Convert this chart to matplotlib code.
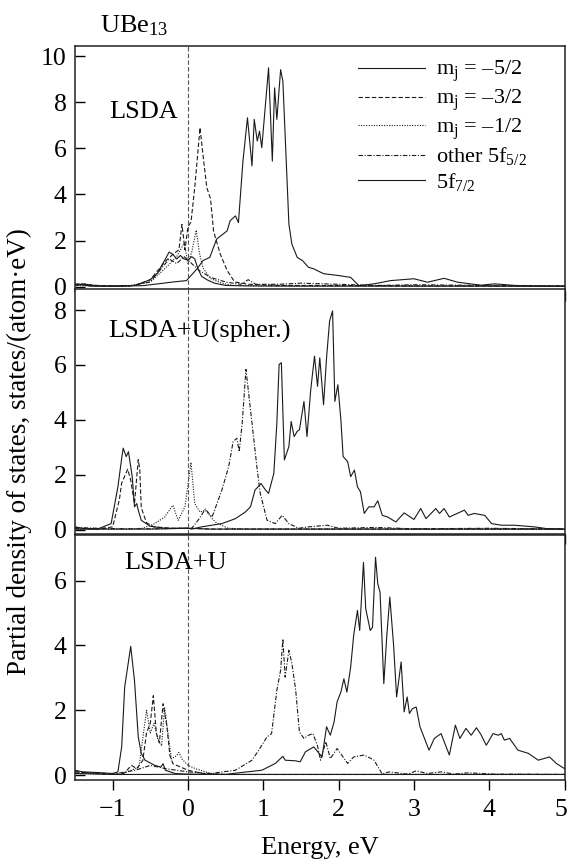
import matplotlib
matplotlib.use("Agg")
from matplotlib import pyplot as plt
from matplotlib.transforms import ScaledTranslation

plt.rcParams['font.family'] = ['Liberation Serif', 'DejaVu Serif']
plt.rcParams['mathtext.fontset'] = 'custom'
plt.rcParams['mathtext.rm'] = 'Liberation Serif'
plt.rcParams['mathtext.it'] = 'Liberation Serif:italic'

# ---------- LSDA ----------
lsda_m52_e = [-1.5, -1.42, -1.3, -1.0, -0.7, -0.5, -0.4, -0.3, -0.25, -0.2, -0.15, -0.1, -0.05, 0.0, 0.05, 0.09, 0.13, 0.18, 0.25, 0.35, 0.5, 0.8, 1.5, 5.0]
lsda_m52 = [0.05, 0.1, 0.03, 0.02, 0.05, 0.3, 0.6, 1.2, 1.5, 1.4, 1.2, 1.35, 1.2, 1.15, 1.3, 1.2, 0.8, 0.45, 0.3, 0.15, 0.05, 0.03, 0.02, 0.02]

lsda_m32_e = [-1.5, -1.4, -1.2, -0.9, -0.7, -0.5, -0.4, -0.3, -0.2, -0.12, -0.08, -0.04, 0.0, 0.04, 0.09, 0.16, 0.2, 0.25, 0.3, 0.34, 0.43, 0.52, 0.62, 0.8, 1.2, 2.0, 3.0, 5.0]
lsda_m32 = [0.1, 0.12, 0.05, 0.02, 0.05, 0.3, 0.7, 1.1, 1.4, 1.6, 2.7, 1.6, 2.6, 2.8, 4.3, 6.9, 5.7, 4.3, 3.8, 2.4, 1.4, 0.7, 0.2, 0.1, 0.05, 0.05, 0.03, 0.02]

lsda_m12_e = [-1.5, -1.2, -0.8, -0.5, -0.3, -0.15, -0.05, 0.0, 0.05, 0.11, 0.15, 0.2, 0.3, 0.45, 0.6, 1.0, 5.0]
lsda_m12 = [0.05, 0.02, 0.02, 0.2, 0.8, 1.3, 1.9, 1.0, 1.5, 2.45, 1.5, 0.8, 0.35, 0.15, 0.05, 0.03, 0.02]

lsda_oth_e = [-1.5, -1.4, -1.2, -0.8, -0.5, -0.35, -0.25, -0.15, -0.05, 0.05, 0.15, 0.3, 0.5, 0.7, 0.8, 0.9, 1.2, 1.5, 2.0, 2.5, 3.0, 4.0, 5.0]
lsda_oth = [0.1, 0.12, 0.03, 0.02, 0.2, 0.8, 1.2, 1.0, 1.3, 1.0, 0.7, 0.4, 0.2, 0.1, 0.3, 0.1, 0.1, 0.15, 0.1, 0.05, 0.08, 0.05, 0.02]

lsda_f72_e = [-1.5, -1.42, -1.3, -1.0, -0.6, -0.37, -0.2, -0.02, 0.12, 0.2, 0.29, 0.38, 0.52, 0.56, 0.63, 0.67, 0.73, 0.79, 0.85, 0.88, 0.92, 0.95, 0.98, 1.07, 1.12, 1.15, 1.18, 1.23, 1.26, 1.34, 1.38, 1.45, 1.52, 1.6, 1.67, 1.8, 2.0, 2.16, 2.27, 2.47, 2.69, 3.0, 3.18, 3.4, 3.58, 3.89, 4.07, 4.34, 4.7, 5.0]
lsda_f72 = [0.05, 0.08, 0.03, 0.02, 0.04, 0.13, 0.2, 0.26, 0.77, 1.13, 1.27, 2.06, 2.42, 2.86, 3.07, 2.78, 5.45, 7.33, 5.24, 7.26, 6.32, 6.75, 6.03, 9.5, 5.45, 8.63, 7.26, 9.42, 8.92, 2.71, 1.84, 1.27, 1.13, 0.84, 0.77, 0.56, 0.48, 0.4, 0.04, 0.12, 0.26, 0.34, 0.19, 0.36, 0.19, 0.06, 0.12, 0.05, 0.02, 0.02]

# ---------- LSDA+U(spher.) ----------
sph_m52_e = [-1.5, -1.4, -1.2, -1.02, -0.93, -0.88, -0.86, -0.82, -0.79, -0.74, -0.71, -0.68, -0.66, -0.62, -0.5, -0.3, 0.0, 0.3, 1.0, 5.0]
sph_m52 = [0.1, 0.05, 0.02, 0.22, 1.56, 2.6, 2.97, 2.66, 2.84, 1.93, 0.83, 0.95, 0.71, 0.34, 0.12, 0.05, 0.05, 0.02, 0.02, 0.02]

sph_m32_e = [-1.5, -1.2, -1.0, -0.91, -0.88, -0.8, -0.76, -0.71, -0.66, -0.64, -0.62, -0.55, -0.45, -0.2, 0.0, 0.3, 1.0, 5.0]
sph_m32 = [0.05, 0.02, 0.1, 1.1, 1.7, 2.2, 1.8, 0.95, 2.55, 2.2, 0.8, 0.25, 0.1, 0.05, 0.05, 0.02, 0.02, 0.02]

sph_m12_e = [-1.5, -0.8, -0.6, -0.44, -0.31, -0.2, -0.13, -0.04, 0.04, 0.09, 0.16, 0.23, 0.36, 0.53, 0.8, 5.0]
sph_m12 = [0.02, 0.02, 0.05, 0.22, 0.46, 0.89, 0.34, 0.83, 2.45, 0.95, 0.64, 0.71, 0.28, 0.05, 0.02, 0.02]

sph_oth_e = [-1.5, -1.2, -0.8, -0.4, 0.0, 0.05, 0.15, 0.23, 0.32, 0.45, 0.54, 0.6, 0.65, 0.68, 0.72, 0.77, 0.8, 0.85, 0.92, 0.96, 1.05, 1.16, 1.25, 1.34, 1.47, 1.6, 1.85, 2.0, 2.5, 3.0, 4.0, 5.0]
sph_oth = [0.08, 0.05, 0.03, 0.03, 0.05, 0.05, 0.4, 0.75, 0.46, 1.44, 2.29, 3.21, 3.33, 2.84, 3.88, 5.84, 5.1, 3.88, 2.17, 1.32, 0.34, 0.22, 0.52, 0.22, 0.05, 0.1, 0.16, 0.05, 0.08, 0.03, 0.05, 0.02]

sph_f72_e = [-1.5, -0.5, 0.0, 0.05, 0.18, 0.45, 0.63, 0.76, 0.83, 0.89, 0.93, 0.97, 1.03, 1.07, 1.14, 1.18, 1.21, 1.24, 1.28, 1.34, 1.37, 1.41, 1.45, 1.48, 1.54, 1.58, 1.63, 1.68, 1.72, 1.75, 1.8, 1.84, 1.88, 1.92, 1.95, 1.99, 2.03, 2.06, 2.12, 2.16, 2.21, 2.25, 2.29, 2.34, 2.4, 2.47, 2.52, 2.58, 2.65, 2.76, 2.87, 3.0, 3.09, 3.16, 3.29, 3.34, 3.4, 3.47, 3.67, 3.72, 3.8, 3.94, 4.03, 4.16, 4.34, 4.6, 4.78, 5.0]
sph_f72 = [0.02, 0.02, 0.05, 0.02, 0.1, 0.22, 0.4, 0.64, 0.83, 1.44, 1.56, 1.68, 1.44, 1.32, 2.05, 3.88, 6.02, 6.08, 2.54, 3.03, 3.94, 3.39, 3.58, 3.64, 4.67, 3.39, 5.1, 6.32, 5.22, 6.26, 4.55, 6.26, 7.6, 7.97, 4.67, 5.28, 4.0, 2.66, 2.48, 1.93, 2.17, 1.56, 1.38, 0.59, 0.83, 0.83, 1.05, 0.52, 0.46, 0.28, 0.61, 0.37, 0.77, 0.4, 0.77, 0.59, 0.77, 0.46, 0.71, 0.52, 0.59, 0.52, 0.22, 0.16, 0.16, 0.1, 0.03, 0.02]

# ---------- LSDA+U ----------
u_m52_e = [-1.5, -1.4, -1.2, -1.0, -0.93, -0.88, -0.84, -0.76, -0.71, -0.66, -0.62, -0.57, -0.44, -0.36, -0.33, -0.3, -0.17, 0.0, 0.5, 5.0]
u_m52 = [0.15, 0.1, 0.08, 0.05, 0.1, 0.87, 2.72, 3.97, 2.92, 1.18, 0.67, 0.46, 0.3, 0.25, 0.35, 0.15, 0.05, 0.02, 0.02, 0.02]

u_m32_e = [-1.5, -1.0, -0.85, -0.75, -0.68, -0.6, -0.55, -0.5, -0.46, -0.42, -0.38, -0.33, -0.28, -0.24, -0.2, -0.15, -0.1, 0.0, 0.2, 0.5, 5.0]
u_m32 = [0.1, 0.02, 0.05, 0.3, 0.2, 0.45, 1.3, 1.6, 2.45, 1.3, 1.0, 2.2, 1.5, 0.6, 0.35, 0.3, 0.25, 0.15, 0.05, 0.02, 0.02]

u_m12_e = [-1.5, -0.9, -0.75, -0.65, -0.55, -0.5, -0.45, -0.4, -0.35, -0.31, -0.26, -0.22, -0.15, -0.12, -0.08, 0.0, 0.1, 0.3, 0.5, 5.0]
u_m12 = [0.05, 0.02, 0.15, 0.25, 2.0, 1.3, 1.6, 1.1, 0.9, 2.1, 1.2, 0.5, 0.6, 0.7, 0.5, 0.3, 0.2, 0.05, 0.02, 0.02]

u_oth_e = [-1.5, -1.0, -0.7, -0.5, -0.3, 0.0, 0.3, 0.63, 0.85, 0.94, 1.05, 1.11, 1.18, 1.23, 1.26, 1.29, 1.34, 1.38, 1.43, 1.48, 1.54, 1.6, 1.66, 1.72, 1.76, 1.83, 1.89, 1.98, 2.12, 2.2, 2.34, 2.47, 2.58, 2.67, 2.92, 3.03, 3.18, 3.36, 3.53, 3.72, 4.07, 4.34, 5.0]
u_oth = [0.1, 0.03, 0.15, 0.3, 0.2, 0.1, 0.05, 0.15, 0.46, 0.77, 1.18, 1.28, 2.62, 3.23, 4.2, 3.02, 3.85, 3.44, 2.62, 1.33, 1.13, 1.23, 1.28, 0.9, 0.46, 1.03, 0.51, 0.82, 0.36, 0.56, 0.62, 0.46, 0.03, 0.1, 0.03, 0.13, 0.05, 0.1, 0.03, 0.07, 0.03, 0.03, 0.02]

u_f72_e = [-1.5, -1.0, -0.5, 0.0, 0.5, 0.63, 0.98, 1.16, 1.26, 1.29, 1.43, 1.49, 1.56, 1.67, 1.74, 1.78, 1.84, 1.89, 1.94, 1.98, 2.03, 2.07, 2.11, 2.16, 2.2, 2.25, 2.28, 2.33, 2.36, 2.42, 2.45, 2.49, 2.52, 2.55, 2.6, 2.64, 2.68, 2.73, 2.77, 2.83, 2.87, 2.91, 2.94, 2.98, 3.03, 3.08, 3.14, 3.2, 3.27, 3.36, 3.47, 3.55, 3.61, 3.69, 3.76, 3.83, 3.89, 3.96, 4.05, 4.12, 4.16, 4.2, 4.27, 4.38, 4.52, 4.65, 4.8, 4.89, 5.0]
u_f72 = [0.05, 0.02, 0.02, 0.03, 0.02, 0.06, 0.15, 0.36, 0.58, 0.46, 0.44, 0.41, 0.72, 0.87, 0.67, 0.56, 1.49, 1.23, 1.64, 2.26, 2.56, 2.97, 2.56, 3.33, 4.31, 5.08, 4.46, 6.56, 5.13, 4.46, 4.56, 6.72, 5.9, 5.64, 2.82, 4.31, 5.49, 4.0, 2.41, 3.49, 1.95, 2.41, 1.9, 2.05, 2.1, 1.49, 1.13, 0.77, 1.13, 1.28, 0.62, 1.54, 1.13, 1.44, 1.23, 1.46, 1.25, 0.92, 1.28, 1.23, 1.28, 1.08, 1.13, 0.77, 0.67, 0.46, 0.56, 0.36, 0.2]

labels = ['m$_\\mathrm{j}$ = \u20135/2', 'm$_\\mathrm{j}$ = \u20133/2', 'm$_\\mathrm{j}$ = \u20131/2',
          'other 5f$_{5/2}$', '5f$_{7/2}$']
styles = ['-', (0, (4, 2)), (0, (1, 1.3)), (0, (4, 1.5, 1, 1.5)), '-']

panels = [
    ('LSDA', [(lsda_m52_e, lsda_m52), (lsda_m32_e, lsda_m32), (lsda_m12_e, lsda_m12),
              (lsda_oth_e, lsda_oth), (lsda_f72_e, lsda_f72)], (-0.2, 10.43), [0, 2, 4, 6, 8, 10], (0.07, 0.73)),
    ('LSDA+U(spher.)', [(sph_m52_e, sph_m52), (sph_m32_e, sph_m32), (sph_m12_e, sph_m12),
                        (sph_oth_e, sph_oth), (sph_f72_e, sph_f72)], (-0.17, 8.75), [0, 2, 4, 6, 8], (0.067, 0.83)),
    ('LSDA+U', [(u_m52_e, u_m52), (u_m32_e, u_m32), (u_m12_e, u_m12),
                (u_oth_e, u_oth), (u_f72_e, u_f72)], (-0.15, 7.4), [0, 2, 4, 6], (0.10, 0.886)),
]

fig = plt.figure(figsize=(5.68, 8.59), dpi=100)
bottoms = [0.661, 0.378, 0.092]
axes = []
for (name, curves, ylim, yt, pos), b in zip(panels, bottoms):
    ax = fig.add_axes([0.132, b, 0.862, 0.285])
    for (e, d), ls, lab in zip(curves, styles, labels):
        ax.plot(e, d, ls=ls, color='#1a1a1a', lw=0.8, label=lab)
    ax.axvline(0, color='#555555', ls=(0, (4, 2)), lw=0.8)
    ax.set_xlim(-1.5, 5)
    ax.set_ylim(*ylim)
    ax.set_yticks(yt)
    ax.set_xticks([-1, 0, 1, 2, 3, 4, 5])
    ax.tick_params(axis='x', direction='out', length=7, width=1, labelsize=18.5, pad=7)
    ax.tick_params(axis='y', direction='in', length=7, width=1, labelsize=18.5, pad=6)
    for s in ax.spines.values():
        s.set_linewidth(1.1)
        s.set_color('#222222')
    ax.text(pos[0], pos[1], name, transform=ax.transAxes, fontsize=19, va='center', ha='left')
    axes.append(ax)

axes[0].tick_params(axis='x', labelbottom=False)
axes[1].tick_params(axis='x', labelbottom=False)
axes[2].set_xlabel('Energy, eV', fontsize=19, labelpad=11)

# keep the last tick label inside the figure edge
last = axes[2].get_xticklabels()[-1]
last.set_transform(last.get_transform() + ScaledTranslation(-4 / 100, 0, fig.dpi_scale_trans))

axes[0].legend(loc='upper left', bbox_to_anchor=(0.56, 0.985), frameon=False, fontsize=16,
               handlelength=3.0, handletextpad=0.5, labelspacing=0.15, borderaxespad=0)

fig.text(0.176, 0.962, 'UBe$_{13}$', fontsize=19, ha='left', va='baseline')
fig.text(0.035, 0.474, 'Partial density of states, states/(atom\u00b7eV)', fontsize=19.5,
         rotation=90, ha='center', va='center')

fig.savefig('out.png', dpi=100)
